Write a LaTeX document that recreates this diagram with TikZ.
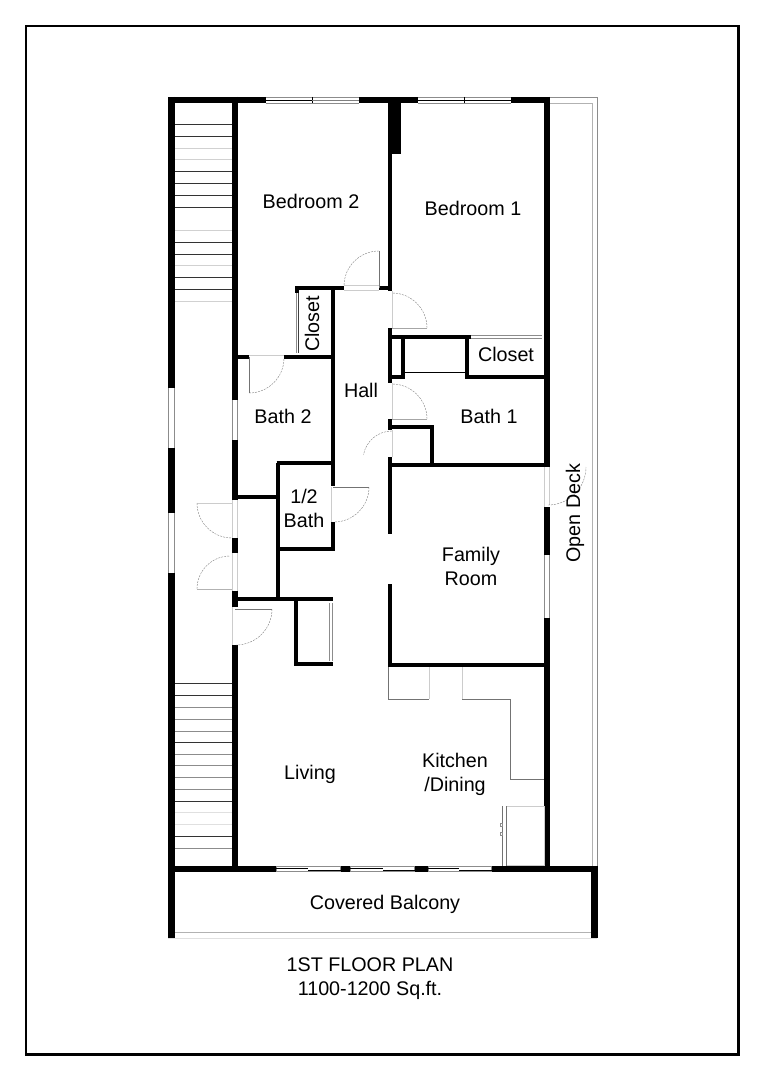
\documentclass[tikz,border=0pt]{standalone}
\usepackage{fontspec}
\setmainfont{Liberation Sans}
\tikzset{
	wall/.style={line width=4.6pt},
	stairwall/.style={line width=4.2pt},
	partition/.style={line width=3pt},
	tread/.style={line width=.6pt},
	frameline/.style={line width=1.9pt},
	glass/.style={line width=.5pt,draw=black!45},
	swing/.style={line width=.3pt,draw=black!50,dash pattern=on 1.5pt off .8pt},
	leaf/.style={line width=.7pt,draw=black!55},
	jamb/.style={line width=.4pt,draw=black!20},
	counter/.style={line width=.6pt,draw=black!55},
	room/.style={font=\fontsize{14.8}{18}\selectfont,align=center,inner sep=0pt}
}
\begin{document}
\begin{tikzpicture}[x=.75pt,y=-.75pt]
\useasboundingbox (0,0) rectangle (764,1080);
\draw [frameline] (26,26) rectangle (738.3,1054.3);
% stairs
\foreach \y in {124,136,171,183,195,207,242,254,277,289}
	\draw [tread,black!80] (175,\y) -- (232,\y);
\foreach \y in {148.5,159,230,265,301}
	\draw [tread,black!18] (175,\y) -- (232,\y);
\foreach \y in {683,695,742,801,836}
	\draw [tread,black!80] (175,\y) -- (232,\y);
\foreach \y in {707,719,731,754,765,777,789,848}
	\draw [tread,black!45] (175,\y) -- (232,\y);
\foreach \y in {812,824}
	\draw [tread,black!12] (175,\y) -- (232,\y);
% open deck rail
\draw [glass] (550,97.5) -- (597,97.5) -- (597,866);
\draw [glass,black!30] (550,103) -- (592,103) -- (592,866);
\draw [glass,black!30] (175,932) -- (592,932);
\draw [glass,black!12] (168,938) -- (597,938);
% windows
\begin{scope}[glass]
	\foreach \a/\b in {266/359,418/511} {
		\draw (\a,97.5) -- (\b,97.5);
		\draw (\a,103) -- (\b,103);
	}
	\foreach \a/\b in {276/341,350/415,428/492} {
		\draw (\a,866.5) rectangle (\b,871.5);
		\draw (\a+.7,866) -- (\a+.7,872) (\b-.7,866) -- (\b-.7,872);
	}
	\foreach \a/\b in {388/448,513/573}
		\foreach \x in {168.5,174.5}
			\draw (\x,\a) -- (\x,\b);
	\foreach \x in {232.5,237.5}
		\draw (\x,400) -- (\x,440);
	\draw (544.5,555) -- (544.5,618);
	\draw (549,555) -- (549,618);
	\draw (296.5,293) -- (296.5,353);
	\draw [black!75] (298.7,293) -- (298.7,353);
	\draw (329.5,603) -- (329.5,661);
	\draw (332.5,603) -- (332.5,661);
	\draw (471,335.5) -- (542,335.5);
	\draw (471,338.5) -- (542,338.5);
\end{scope}
\draw [line width=.7pt] (266,100) -- (312,100) (312,97) -- (312,103);
\draw [line width=.7pt,black!50] (312,100) -- (359,100);
\draw [line width=.7pt] (418,100) -- (511,100) (464,97) -- (464,103);
\foreach \a/\b in {276/308,350/383,428/459}
	\draw [line width=.7pt] (\a,868) -- (\b,868);
\foreach \a/\b in {308/341,383/415,459/492}
	\draw [line width=.7pt] (\a,870) -- (\b,870);
% outer walls
\begin{scope}[wall]
	\draw (168,100) -- (266,100);
	\draw (359,100) -- (418,100);
	\draw (511,100) -- (550,100);
	\draw (171.5,97) -- (171.5,388);
	\draw (171.5,448) -- (171.5,513);
	\draw (171.5,573) -- (171.5,938);
	\draw (547,97) -- (547,467);
	\draw (547,507) -- (547,555);
	\draw (547,618) -- (547,869);
	\draw (168,869) -- (276,869);
	\draw (341,869) -- (350,869);
	\draw (415,869) -- (428,869);
	\draw (492,869) -- (597,869);
	\draw (594.5,866) -- (594.5,938);
\end{scope}
\begin{scope}[stairwall]
	\draw (235,97) -- (235,400);
	\draw (235,440) -- (235,500);
	\draw (235,538) -- (235,553);
	\draw (235,591) -- (235,607);
	\draw (235,645) -- (235,869);
\end{scope}
\fill (388,97) rectangle (401,154);
% inner walls
\begin{scope}[partition]
	\draw (390,154) -- (390,291);
	\draw (390,328) -- (390,383);
	\draw (390,419) -- (390,430);
	\draw (390,457) -- (390,534);
	\draw (390,584) -- (390,667);
	\draw (295,288) -- (344,288);
	\draw (379,288) -- (390,288);
	\draw (297,286.5) -- (297,293);
	\draw (333,286.5) -- (333,486);
	\draw (333,522) -- (333,551);
	\draw (235,357) -- (249,357);
	\draw (284,357) -- (333,357);
	\draw (276.5,463) -- (333,463);
	\draw (278,463) -- (278,600);
	\draw (235,497) -- (278,497);
	\draw (278,549) -- (334.5,549);
	\draw (235,599) -- (333,599);
	\draw (296,599) -- (296,665.5);
	\draw (294.5,664) -- (333,664);
	\draw (390,337) -- (471,337);
	\draw (467,337) -- (467,378.5);
	\draw (465.5,377) -- (547,377);
	\draw (403,337) -- (403,378.5);
	\draw (390,377) -- (403,377);
	\draw (390,427) -- (433.5,427);
	\draw (432,427) -- (432,465);
	\draw (390,465) -- (547,465);
	\draw (390,665) -- (547,665);
\end{scope}
\draw [line width=.6pt] (403,372) -- (467,372);
% doors
\draw [leaf] (379,288) -- (379,251);
\draw [swing] (379,251) arc [start angle=-90,end angle=-180,radius=35];
\draw [leaf,black!35] (392,328) -- (427,328);
\draw [swing] (427,328) arc [start angle=0,end angle=-90,radius=35];
\draw [leaf,black!35] (392,419) -- (427,419);
\draw [swing] (427,419) arc [start angle=0,end angle=-90,radius=35];
\draw [swing] (392,431) arc [start angle=-90,end angle=-170,radius=29];
\draw [leaf] (249,357) -- (249,393);
\draw [swing] (249,393) arc [start angle=90,end angle=0,radius=35];
\draw [leaf] (333,487) -- (369,487);
\draw [swing] (369,487) arc [start angle=0,end angle=90,radius=35];
\draw [jamb] (197,503) -- (232,503);
\draw [swing] (197,503) arc [start angle=180,end angle=90,radius=35];
\draw [leaf,black!30] (197,589) -- (232,589);
\draw [swing] (197,589) arc [start angle=180,end angle=270,radius=33];
\draw [leaf] (235,609) -- (272,609);
\draw [swing] (272,609) arc [start angle=0,end angle=90,radius=36];
\draw [jamb] (549,467) -- (549,505);
\draw [swing] (548,505) arc [start angle=90,end angle=0,radius=38];
% door openings
\draw [jamb] (344,285.5) -- (379,285.5) (344,290) -- (379,290);
\draw [jamb] (392,291) -- (392,328);
\draw [jamb] (392,383) -- (392,419);
\draw [jamb] (392,430) -- (392,457);
\draw [jamb] (249,355.5) -- (284,355.5);
\draw [jamb] (331,487) -- (331,522);
\draw [jamb] (232.5,500) -- (232.5,538) (237.5,500) -- (237.5,538);
\draw [jamb] (232.5,553) -- (232.5,591) (237.5,553) -- (237.5,591);
\draw [jamb] (232.5,607) -- (232.5,645);
\draw [jamb] (544.5,467) -- (544.5,507);
% kitchen
\draw [counter] (388,667) -- (388,699) -- (429,699);
\draw [jamb] (429,667) -- (429,699);
\draw [jamb] (462,667) -- (462,699);
\draw [counter] (462,699) -- (510,699) -- (510,779) -- (544,779);
\draw [counter] (502,806) -- (502,866);
\draw [jamb] (506,806) -- (544,806) -- (544,865) -- (506,865);
\draw [leaf] (506,806) -- (506,866);
\draw [glass] (500,823) rectangle (502,826) (500,832) rectangle (502,835);
% labels
\node [room] (bedtwo) at (311,201) {Bedroom 2};
\node [room] (bedone) at (473,208) {Bedroom 1};
\node [room,rotate=90] (closettwo) at (312,324) {Closet};
\node [room] (closetone) at (506,354) {Closet};
\node [room] (hall) at (361,390) {Hall};
\node [room] (bathtwo) at (283,416) {Bath 2};
\node [room] (bathone) at (489,416) {Bath 1};
\node [room] (halfbath) at (304,508.5) {1/2\\Bath};
\node [room] (family) at (471,566) {Family\\Room};
\node [room,rotate=90] (deck) at (575,513) {Open Deck};
\node [room] (living) at (310,774) {Living};
\node [room] (kitchen) at (455,774) {Kitchen\\/Dining};
\node [room] (balcony) at (385,904) {Covered Balcony};
\node [room] (title) at (370,979) {1ST FLOOR PLAN\\1100-1200 Sq.ft.};
\end{tikzpicture}
\end{document}
